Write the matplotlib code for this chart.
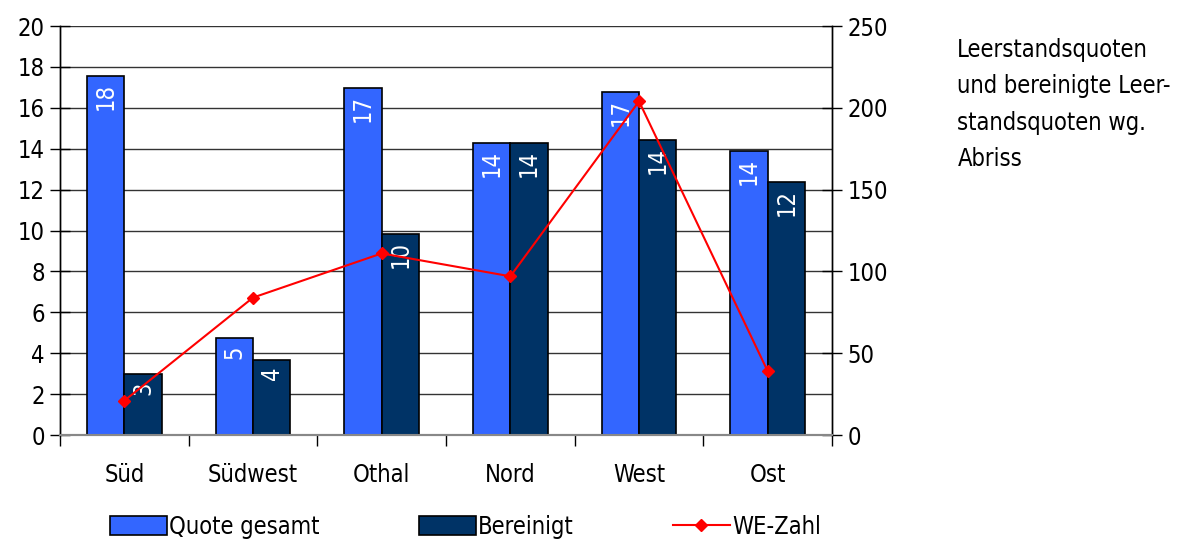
import matplotlib.pyplot as plt
from matplotlib import font_manager
import numpy as np

# Daten: Leerstandsquoten je Stadtteil
stadtteile = ['Süd', 'Südwest', 'Othal', 'Nord', 'West', 'Ost']
quote_gesamt = [17.55, 4.74, 16.97, 14.28, 16.77, 13.89]
bereinigt = [2.98, 3.67, 9.83, 14.28, 14.43, 12.37]
we_zahl = [21, 84, 111, 97, 204, 39]

# schmale Schrift suchen
schmal = [f for f in font_manager.fontManager.ttflist
          if ('Condensed' in f.fname or 'Narrow' in f.fname)
          and 'Bold' not in f.fname and 'Oblique' not in f.fname and 'Italic' not in f.fname]
if schmal:
    font_manager.fontManager.addfont(schmal[0].fname)
    schrift = schmal[0].name
    staerke = schmal[0].stretch
else:
    schrift = 'Roboto'
    staerke = 'normal'
plt.rcParams['font.family'] = [schrift, 'DejaVu Sans']
plt.rcParams['font.stretch'] = staerke
fs = 17

fig = plt.figure(figsize=(11.79, 5.42), dpi=100)
ax = fig.add_axes([0.0509, 0.1974, 0.6548, 0.7546])
ax2 = ax.twinx()

x = np.arange(len(stadtteile))
b = 0.29
balken1 = ax.bar(x - b / 2, quote_gesamt, b, color='#3366FF', edgecolor='black',
                 linewidth=1.2, label='Quote gesamt', zorder=3)
balken2 = ax.bar(x + b / 2, bereinigt, b, color='#003366', edgecolor='black',
                 linewidth=1.2, label='Bereinigt', zorder=3)

# Werte senkrecht oben in die Balken schreiben
for bars in (balken1, balken2):
    for r in bars:
        h = r.get_height()
        ax.annotate('%.0f' % h, (r.get_x() + r.get_width() / 2, h),
                    xytext=(0, -5), textcoords='offset points',
                    rotation=90, ha='center', va='top', color='white',
                    fontsize=fs, zorder=4)

linie, = ax2.plot(x, we_zahl, color='#FF0000', marker='D', markersize=6,
                  linewidth=1.5, label='WE-Zahl', zorder=5)

ax.set_xlim(-0.5, 5.5)
ax.set_ylim(0, 20)
ax.set_yticks(range(0, 21, 2))
ax2.set_ylim(0, 250)
ax2.set_yticks(range(0, 251, 50))

ax.yaxis.grid(True, color='#333333', linewidth=1)
ax.set_axisbelow(True)

# Striche an den Grenzen, Namen in der Mitte
ax.set_xticks(np.arange(-0.5, 6, 1))
ax.set_xticklabels([])
ax.set_xticks(x, minor=True)
ax.set_xticklabels(stadtteile, minor=True, fontsize=fs)
ax.tick_params(axis='x', which='major', direction='out', length=8, width=1)
ax.tick_params(axis='x', which='minor', length=0, pad=20)

ax.tick_params(axis='y', direction='inout', length=14, width=1, labelsize=fs, pad=4)
ax2.tick_params(axis='y', direction='inout', length=14, width=1, labelsize=fs, pad=4)

for a in (ax, ax2):
    a.spines['top'].set_visible(False)
    a.spines['bottom'].set_color('#888888')
    a.spines['bottom'].set_linewidth(1.5)
    a.spines['left'].set_linewidth(1)
    a.spines['right'].set_linewidth(1)

ax2.patch.set_visible(False)

fig.legend(handles=[balken1, balken2, linie],
           labels=['Quote gesamt', 'Bereinigt', 'WE-Zahl'],
           loc='center', bbox_to_anchor=(0.395, 0.028), ncol=3, frameon=False,
           fontsize=fs, handlelength=2.4, handleheight=0.9, handletextpad=0.1,
           columnspacing=4.2)

fig.text(0.812, 0.93, 'Leerstandsquoten\nund bereinigte Leer-\nstandsquoten wg.\nAbriss',
         fontsize=fs, va='top', ha='left', linespacing=1.65)

fig.savefig('out.png', dpi=100)
